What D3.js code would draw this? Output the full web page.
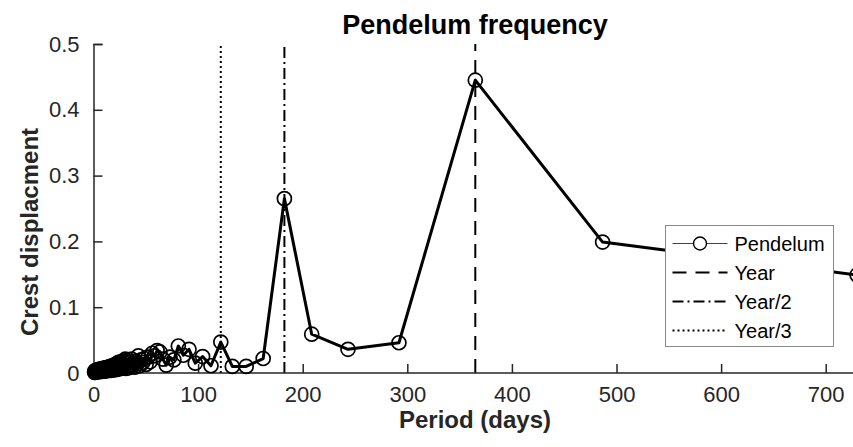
<!DOCTYPE html>
<html>
<head>
<meta charset="utf-8">
<script src="https://cdn.jsdelivr.net/npm/d3@7"></script>
<style>
  body { margin: 0; background: #fff; }
  svg { display: block; font-family: "Liberation Sans", Arial, sans-serif; }
</style>
</head>
<body>
<svg id="chart" width="853" height="447"></svg>
<script>
// Period (days) of each harmonic and its crest displacement
const periods = [
  730, 486.7, 365, 292, 243.3, 208.6, 182.5, 162.2, 146, 132.7,
  121.7, 112.3, 104.3, 97.3, 91.3, 85.9, 81.1, 76.8, 73, 69.5,
  66.4, 63.5, 60.8, 58.4, 56.2, 54.1, 52.1, 50.3, 48.7, 47.1,
  45.6, 44.2, 42.9, 41.7, 40.6, 39.5, 38.4, 37.4, 36.5, 35.6,
  34.8, 34, 33.2, 32.4, 31.7, 31.1, 30.4, 29.8,
  29.2, 28.7, 28.1, 27.5, 27.0, 26.5, 26.1, 25.6, 25.2, 24.7,
  24.3, 23.9, 23.5, 23.2, 22.8, 22.5, 22.1, 21.8, 21.5, 21.2,
  20.9, 20.6, 20.3, 20.0, 19.7, 19.5, 19.2, 18.7, 18.2, 17.7,
  17.2, 16.7, 16.2, 15.7, 15.2, 14.7, 14.2, 13.7, 13.2, 12.7,
  12.2, 11.7, 11.2, 10.7, 10.2, 9.7, 9.2, 8.7, 8.2, 7.7,
  7.2, 6.7, 6.2, 5.7, 5.2, 4.7, 4.2, 3.7, 3.2, 2.7,
  2.2, 1.7, 1.2, 1.0
];
const displacement = [
  0.149, 0.199, 0.445, 0.046, 0.036, 0.059, 0.265, 0.022, 0.010, 0.010,
  0.047, 0.011, 0.025, 0.015, 0.036, 0.027, 0.041, 0.020, 0.024, 0.012,
  0.021, 0.032, 0.034, 0.026, 0.030, 0.017, 0.024, 0.013, 0.022, 0.016,
  0.020, 0.011, 0.026, 0.014, 0.018, 0.009, 0.015, 0.012, 0.021, 0.010,
  0.017, 0.008, 0.016, 0.010, 0.019, 0.007, 0.021, 0.011,
  0.016, 0.008, 0.018, 0.009, 0.015, 0.007, 0.017, 0.008, 0.014, 0.007,
  0.016, 0.006, 0.013, 0.007, 0.015, 0.006, 0.012, 0.007, 0.013, 0.005,
  0.012, 0.006, 0.011, 0.005, 0.012, 0.006, 0.010, 0.005, 0.011, 0.005,
  0.010, 0.004, 0.010, 0.005, 0.009, 0.004, 0.009, 0.004, 0.008, 0.004,
  0.008, 0.003, 0.008, 0.004, 0.007, 0.003, 0.007, 0.003, 0.006, 0.003,
  0.006, 0.002, 0.006, 0.003, 0.005, 0.002, 0.005, 0.002, 0.004, 0.002,
  0.004, 0.001, 0.003, 0.001
];

// Reference periods drawn as vertical lines
const refLabels = ['Year', 'Year/2', 'Year/3'];
const refPeriods = [365, 182.5, 121.67];

const xTicks = [0, 100, 200, 300, 400, 500, 600, 700];
const yTicks = [0, 0.1, 0.2, 0.3, 0.4, 0.5];

const svg = d3.select('#chart');
const ink = '#262626';

const x = d3.scaleLinear().domain([0, 730]).range([93.5, 857.1]);
const y = d3.scaleLinear().domain([0, 0.5]).range([373, 44]);

const dashes = ['14,9', '11,4,2,4', '2,3'];

// reference lines
svg.append('g').selectAll('line').data(refPeriods).enter().append('line')
  .attr('x1', d => x(d)).attr('x2', d => x(d))
  .attr('y1', y(0)).attr('y2', y(0.5))
  .attr('stroke', '#000').attr('stroke-width', 2)
  .attr('stroke-dasharray', (d, i) => dashes[i]);

// axes
const xAxis = svg.append('g').attr('transform', `translate(0,${y(0)})`)
  .call(d3.axisBottom(x).tickValues(xTicks).tickSize(-9).tickPadding(13).tickFormat(d3.format('d')));
const yAxis = svg.append('g').attr('transform', `translate(${x(0)},0)`)
  .call(d3.axisLeft(y).tickValues(yTicks).tickSize(-9).tickPadding(14).tickFormat(d => d === 0 ? '0' : d3.format('.1f')(d)));

[xAxis, yAxis].forEach(a => {
  a.select('.domain').attr('stroke', ink).attr('stroke-width', 1.5);
  a.selectAll('.tick line').attr('stroke', ink).attr('stroke-width', 1.5);
  a.selectAll('.tick text').attr('fill', ink).attr('font-size', 22).attr('font-family', '"Liberation Sans", Arial, sans-serif');
});
xAxis.select('.domain').attr('d', `M${x(0)},0H853`);

// pendulum series
const pts = periods.map((p, i) => [p, displacement[i]]);
svg.append('path').datum(pts)
  .attr('fill', 'none').attr('stroke', '#000').attr('stroke-width', 3)
  .attr('stroke-linejoin', 'round')
  .attr('d', d3.line().x(d => x(d[0])).y(d => y(d[1])));
svg.append('g').selectAll('circle').data(pts).enter().append('circle')
  .attr('cx', d => x(d[0])).attr('cy', d => y(d[1])).attr('r', 7)
  .attr('fill', 'none').attr('stroke', '#000').attr('stroke-width', 1.7);

// titles
svg.append('text').attr('x', 475).attr('y', 34).attr('text-anchor', 'middle')
  .attr('font-size', 27).attr('font-weight', 'bold').attr('fill', '#000')
  .text('Pendelum frequency');
svg.append('text').attr('x', 475).attr('y', 428).attr('text-anchor', 'middle')
  .attr('font-size', 24).attr('font-weight', 'bold').attr('fill', ink)
  .text('Period (days)');
svg.append('text').attr('transform', 'translate(38,232) rotate(-90)').attr('text-anchor', 'middle')
  .attr('font-size', 24).attr('font-weight', 'bold').attr('fill', ink)
  .text('Crest displacment');

// legend
const legend = svg.append('g').attr('transform', 'translate(665.5,225.5)');
legend.append('rect').attr('width', 168).attr('height', 121)
  .attr('fill', '#fff').attr('stroke', '#888').attr('stroke-width', 1);
const entries = ['Pendelum'].concat(refLabels);
const rows = legend.selectAll('.row').data(entries).enter().append('g')
  .attr('transform', (d, i) => `translate(0,${18 + i * 29})`);
rows.append('line').attr('x1', 7).attr('x2', 62).attr('y1', 0).attr('y2', 0)
  .attr('stroke', (d, i) => i === 0 ? '#444' : '#000')
  .attr('stroke-width', (d, i) => i === 0 ? 1 : 2)
  .attr('stroke-dasharray', (d, i) => i === 0 ? null : dashes[i - 1]);
rows.filter((d, i) => i === 0).append('circle').attr('cx', 34.5).attr('cy', 0).attr('r', 6.5)
  .attr('fill', '#fff').attr('stroke', '#000').attr('stroke-width', 1.4);
rows.append('text').attr('x', 69).attr('y', 7).attr('font-size', 20).attr('fill', '#000')
  .text(d => d);
</script>
</body>
</html>
